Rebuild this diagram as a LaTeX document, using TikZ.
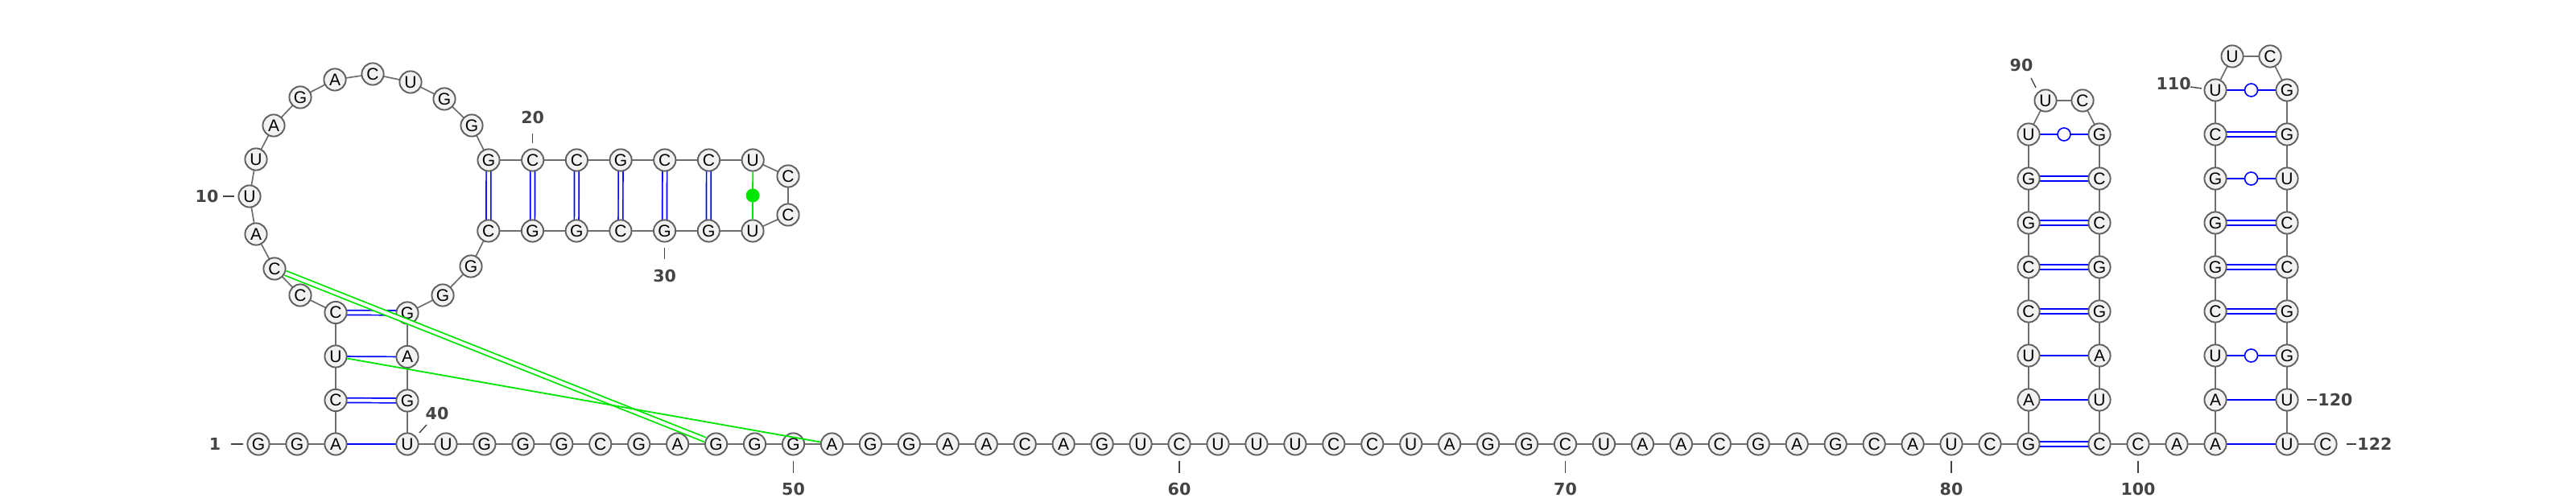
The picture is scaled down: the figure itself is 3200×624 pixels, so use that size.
\documentclass[tikz,border=0pt]{standalone}
\usepackage{fontspec}
\setmainfont{Liberation Sans}
\newfontfamily\labelfont{DejaVu Sans}
\usetikzlibrary{calc}

\pgfdeclarelayer{back}
\pgfsetlayers{back,main}

\definecolor{ntfill}{HTML}{F2F2F2}
\definecolor{ntdraw}{HTML}{606060}
\definecolor{bbline}{HTML}{6E6E6E}
\definecolor{wcblue}{HTML}{0000FF}
\definecolor{ncgreen}{HTML}{00E600}
\definecolor{numgray}{HTML}{444444}

\tikzset{
  nt/.style     ={circle, draw=ntdraw, fill=ntfill, line width=0.95pt, minimum size=13.6pt, inner sep=0pt, font=\fontsize{10.5}{10.5}\selectfont},
  bb/.style     ={draw=bbline, line width=0.85pt},
  aupair/.style ={draw=wcblue, line width=0.85pt},
  gcpair/.style ={draw=wcblue, line width=0.85pt, double=white, double distance=2pt},
  wobble/.style ={circle, draw=wcblue, fill=white, line width=0.8pt, minimum size=8pt, inner sep=0pt},
  ncpair/.style ={draw=ncgreen, line width=0.9pt},
  ncdbl/.style  ={draw=ncgreen, line width=0.9pt, double=white, double distance=2pt},
  ncdot/.style  ={circle, fill=ncgreen, minimum size=8.5pt, inner sep=0pt},
  num/.style    ={font=\labelfont\bfseries\fontsize{10.3}{12}\selectfont, text=numgray, inner sep=0pt},
  tick/.style   ={draw=numgray, line width=0.7pt}
}

\begin{document}
\begin{tikzpicture}[x=0.5pt, y=-0.5pt]
    \useasboundingbox (0,0) rectangle (3200,624);

    % 5' end and first stem
    \foreach \b [count=\i] in {G,G,A}
      \node[nt] (n\i) at ({321+(\i-1)*48},552) {\b};
    \foreach \b [count=\i from 4] in {C,U,C}
      \node[nt] (n\i) at (417,{552-(\i-3)*54.5}) {\b};

    % big loop
    \node[nt] (n7)  at (373,367) {C};
    \node[nt] (n8)  at (341,334) {C};
    \node[nt] (n9)  at (318,291) {A};
    \node[nt] (n10) at (310,244) {U};
    \node[nt] (n11) at (318,198) {U};
    \node[nt] (n12) at (340,156) {A};
    \node[nt] (n13) at (373,121) {G};
    \node[nt] (n14) at (416,99)  {A};
    \node[nt] (n15) at (463,92)  {C};
    \node[nt] (n16) at (510,102) {U};
    \node[nt] (n17) at (552,123) {G};
    \node[nt] (n18) at (586,156) {G};

    % horizontal hairpin 19-34
    \foreach \b [count=\i from 19] in {G,C,C,G,C,C,U}
      \node[nt] (n\i) at ({607+(\i-19)*54.7},199) {\b};
    \node[nt] (n26) at (979,219) {C};
    \node[nt] (n27) at (979,267) {C};
    \foreach \b [count=\i from 28] in {U,G,G,C,G,G,C}
      \node[nt] (n\i) at ({935-(\i-28)*54.7},287) {\b};
    \node[nt] (n35) at (585,331) {G};
    \node[nt] (n36) at (550,367) {G};
    \foreach \b [count=\i from 37] in {G,A,G}
      \node[nt] (n\i) at (506,{389+(\i-37)*54.5}) {\b};

    % long single strand
    \foreach \b [count=\i from 40] in {U,U,G,G,G,C,G,A,G,G,G,A,G,G,A,A,C,A,G,U,C,U,U,U,C,C,U,A,G,G,C,U,A,A,C,G,A,G,C,A,U,C,G}
      \node[nt] (n\i) at ({506+(\i-40)*47.95},552) {\b};

    % hairpin 82-99
    \foreach \b [count=\i from 83] in {A,U,C,C,G,G,U}
      \node[nt] (n\i) at (2520,{552-(\i-82)*55}) {\b};
    \node[nt] (n90) at (2541,125) {U};
    \node[nt] (n91) at (2587,125) {C};
    \foreach \b [count=\i from 92] in {G,C,C,G,G,A,U,C}
      \node[nt] (n\i) at (2608,{167+(\i-92)*55}) {\b};
    \foreach \b [count=\i from 100] in {C,A,A}
      \node[nt] (n\i) at ({2656+(\i-100)*48},552) {\b};

    % hairpin 102-121
    \foreach \b [count=\i from 103] in {A,U,C,G,G,G,C,U}
      \node[nt] (n\i) at (2752,{552-(\i-102)*55}) {\b};
    \node[nt] (n111) at (2773,70) {U};
    \node[nt] (n112) at (2820,70) {C};
    \foreach \b [count=\i from 113] in {G,G,U,C,C,G,G,U,U}
      \node[nt] (n\i) at (2841,{112+(\i-113)*55}) {\b};
    \node[nt] (n122) at (2889,552) {C};

    % backbone and base pairs
    \begin{pgfonlayer}{back}
      \foreach \i in {1,...,121}{
        \pgfmathtruncatemacro\j{\i+1}
        \draw[bb] (n\i.center) -- (n\j.center);
      }
      \foreach \a/\b in {4/39,6/37,19/34,20/33,21/32,22/31,23/30,24/29,82/99,85/96,86/95,87/94,88/93,105/118,106/117,107/116,109/114}
        \draw[gcpair] (n\a.center) -- (n\b.center);
      \foreach \a/\b in {3/40,5/38,83/98,84/97,102/121,103/120}
        \draw[aupair] (n\a.center) -- (n\b.center);
      \foreach \a/\b in {89/92,104/119,108/115,110/113}
        \draw[aupair] (n\a.center) -- (n\b.center) node[midway, wobble] {};
    \end{pgfonlayer}

    % non-canonical pairs
    \draw[ncpair] (n25) -- (n28) node[midway, ncdot] {};
    \draw[ncdbl] (n8) -- (n48);
    \draw[ncpair] (n5) -- (n51);

    % numbering
    \node[num] (l1) at ($(n1)+(-54,0)$) {1};
    \draw[tick] ($(n1)+(-34,0)$) -- ($(n1)+(-19,0)$);
    \node[num] (l10) at ($(n10)+(-53,0)$) {10};
    \draw[tick] ($(n10)+(-33,0)$) -- ($(n10)+(-19,0)$);
    \node[num] (l20) at ($(n20)+(0,-53)$) {20};
    \draw[tick] ($(n20)+(0,-33)$) -- ($(n20)+(0,-21)$);
    \node[num] (l30) at ($(n30)+(0,56)$) {30};
    \draw[tick] ($(n30)+(0,21)$) -- ($(n30)+(0,35)$);
    \node[num] (l40) at ($(n40)+(37,-38)$) {40};
    \draw[tick] ($(n40)+(15,-14)$) -- ($(n40)+(24,-24)$);
    \foreach \k in {50,60,70,80,100}{
      \node[num] (l\k) at ($(n\k)+(0,56)$) {\k};
      \draw[tick] ($(n\k)+(0,21)$) -- ($(n\k)+(0,36)$);
    }
    \node[num] (l90) at ($(n90)+(-30,-44)$) {90};
    \draw[tick] ($(n90)+(-18,-28)$) -- ($(n90)+(-12,-16)$);
    \node[num, anchor=east] (l110) at ($(n110)+(-30,-8)$) {110};
    \draw[tick] ($(n110)+(-31,-4)$) -- ($(n110)+(-17,-2)$);
    \node[num, anchor=west] (l120) at ($(n120)+(38,0)$) {120};
    \draw[tick] ($(n120)+(25,0)$) -- ($(n120)+(37,0)$);
    \node[num, anchor=west] (l122) at ($(n122)+(39,0)$) {122};
    \draw[tick] ($(n122)+(26,0)$) -- ($(n122)+(38,0)$);
\end{tikzpicture}
\end{document}
